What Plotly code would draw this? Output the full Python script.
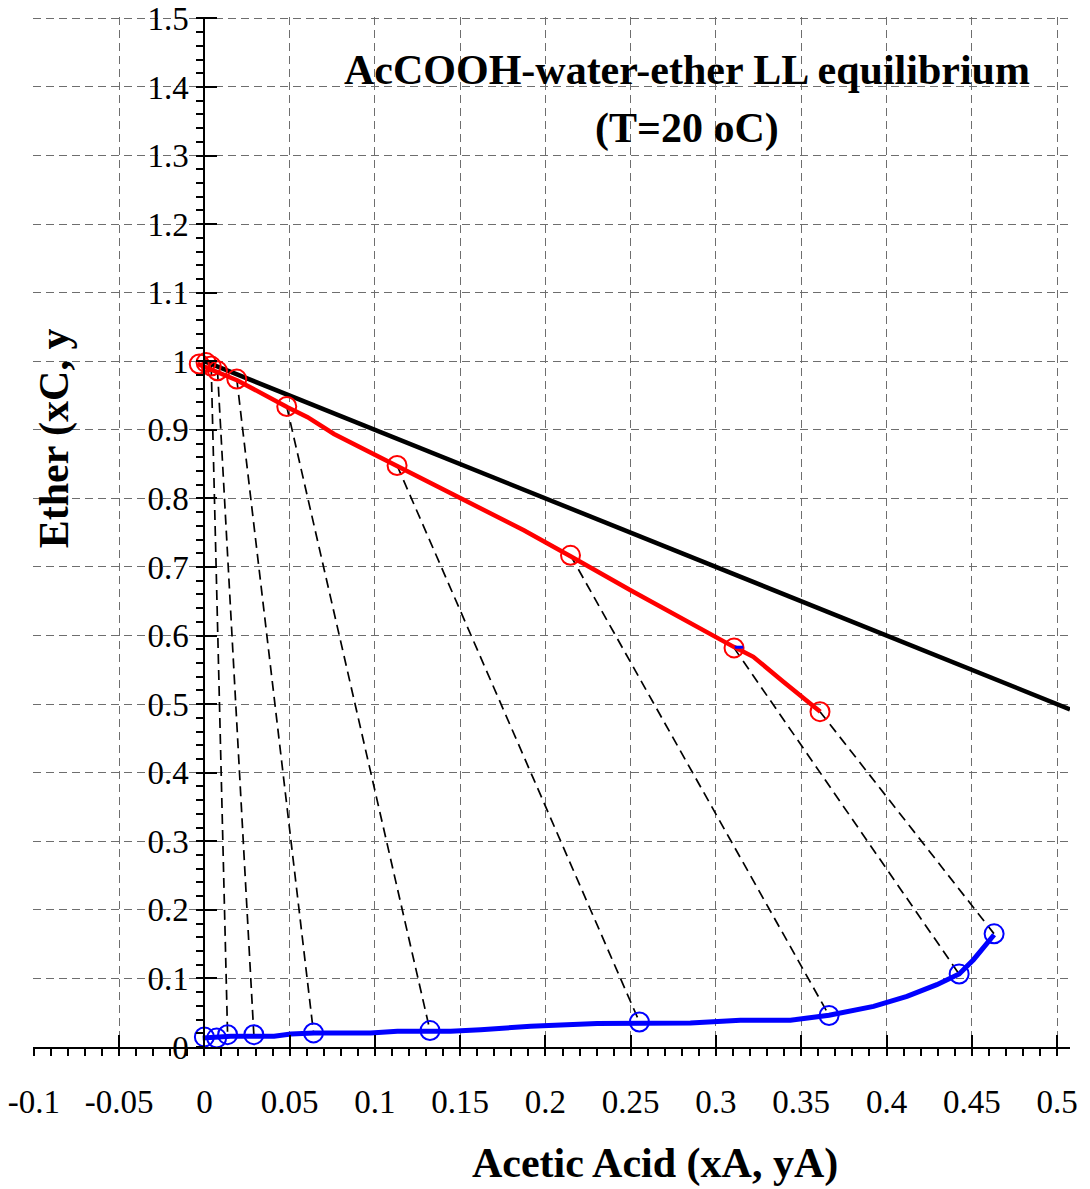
import plotly.graph_objects as go

# ---------------- data ----------------
# extract-phase (ether rich) experimental points
red_x = [-0.003, 0.001, 0.004, 0.0077, 0.019, 0.0483, 0.1130, 0.2147, 0.3106, 0.3610]
red_y = [0.996, 0.998, 0.993, 0.986, 0.974, 0.934, 0.848, 0.717, 0.582, 0.489]
# raffinate-phase (water rich) experimental points
blue_x = [0.000, 0.0072, 0.0136, 0.0290, 0.0640, 0.1323, 0.2551, 0.3663, 0.4426, 0.4631]
blue_y = [0.0147, 0.013, 0.018, 0.018, 0.0205, 0.0239, 0.0365, 0.046, 0.1064, 0.165]
# indices of the points joined by tie lines
tie_idx = [2, 3, 4, 5, 6, 7, 8, 9]

# extract-phase curve
red_curve_x = [-0.004, 0.0077, 0.0194, 0.0487, 0.0605, 0.076, 0.1132, 0.1249, 0.162,
               0.1873, 0.2147, 0.2499, 0.3104, 0.3219, 0.3395, 0.3612]
red_curve_y = [0.9962, 0.984, 0.972, 0.933, 0.9185, 0.894, 0.8467, 0.8336, 0.785,
               0.7535, 0.7156, 0.6661, 0.5835, 0.569, 0.5326, 0.4889]
# raffinate-phase curve
blue_curve_x = [-0.001, 0.0155, 0.0409, 0.0507, 0.0643, 0.0975, 0.1132, 0.1444, 0.162,
                0.1913, 0.2303, 0.2551, 0.285, 0.3143, 0.3436, 0.3663, 0.3924, 0.412,
                0.4295, 0.4426, 0.451, 0.4631]
blue_curve_y = [0.0133, 0.0156, 0.0156, 0.019, 0.0205, 0.0205, 0.0229, 0.0229, 0.0253,
                0.0301, 0.0341, 0.0351, 0.0351, 0.0389, 0.0389, 0.0462, 0.0593, 0.0738,
                0.0909, 0.1065, 0.1273, 0.1637]
# hypotenuse line (xA + xC = 1)
black_x = [0.0, 0.5076]
black_y = [1.0, 0.4924]
# small blue mark near the plait region
mark_x = [0.3110, 0.3160]
mark_y = [0.5830, 0.5830]

x_ticks = [-0.1, -0.05, 0, 0.05, 0.1, 0.15, 0.2, 0.25, 0.3, 0.35, 0.4, 0.45, 0.5]
x_ticklabels = ["-0.1", "-0.05", "0", "0.05", "0.1", "0.15", "0.2", "0.25", "0.3",
                "0.35", "0.4", "0.45", "0.5"]
y_ticks = [0, 0.1, 0.2, 0.3, 0.4, 0.5, 0.6, 0.7, 0.8, 0.9, 1.0, 1.1, 1.2, 1.3, 1.4, 1.5]
y_ticklabels = ["0", "0.1", "0.2", "0.3", "0.4", "0.5", "0.6", "0.7", "0.8", "0.9",
                "1", "1.1", "1.2", "1.3", "1.4", "1.5"]
x_minor = [round(-0.1 + 0.01 * i, 2) for i in range(61)]
y_minor = [round(0.02 * i, 2) for i in range(76)]

x_range = [-0.1005, 0.5076]
y_range = [0, 1.502]
yaxis_pos = (0 - x_range[0]) / (x_range[1] - x_range[0])

title_line1 = "AcCOOH-water-ether LL equilibrium"
title_line2 = "(T=20 oC)"
x_title = "Acetic Acid (xA, yA)"
y_title = "Ether (xC, y"

SERIF = "Liberation Serif, Times New Roman, serif"

fig = go.Figure()

# tie lines
for i in tie_idx:
    fig.add_trace(go.Scatter(
        x=[red_x[i], blue_x[i]], y=[red_y[i], blue_y[i]], mode="lines",
        line=dict(color="black", width=1.7, dash="10px,6px"),
        showlegend=False, hoverinfo="skip"))

fig.add_trace(go.Scatter(x=black_x, y=black_y, mode="lines",
                         line=dict(color="black", width=4.5), showlegend=False))
fig.add_trace(go.Scatter(x=red_curve_x, y=red_curve_y, mode="lines",
                         line=dict(color="#ff0000", width=4.5), showlegend=False))
fig.add_trace(go.Scatter(x=blue_curve_x, y=blue_curve_y, mode="lines",
                         line=dict(color="#0000ff", width=5), showlegend=False))
fig.add_trace(go.Scatter(x=red_x, y=red_y, mode="markers",
                         marker=dict(symbol="circle-open", size=19, color="#ff0000",
                                     line=dict(width=2, color="#ff0000")),
                         showlegend=False, cliponaxis=False))
fig.add_trace(go.Scatter(x=blue_x, y=blue_y, mode="markers",
                         marker=dict(symbol="circle-open", size=19, color="#0000ff",
                                     line=dict(width=2, color="#0000ff")),
                         showlegend=False, cliponaxis=False))
fig.add_trace(go.Scatter(x=mark_x, y=mark_y, mode="lines",
                         line=dict(color="#0000ff", width=3), showlegend=False))
# carrier for overlay axes (inner halves of the major ticks)
fig.add_trace(go.Scatter(x=[None], y=[None], xaxis="x2", yaxis="y2",
                         showlegend=False, hoverinfo="skip"))

grid_common = dict(showgrid=True, gridcolor="#6e6e6e", gridwidth=1, griddash="8px,5px",
                   zeroline=False, automargin=False, ticklabeloverflow="allow")

fig.update_layout(
    width=1090, height=1189,
    margin=dict(l=33, r=20, t=17, b=142, autoexpand=False),
    paper_bgcolor="white", plot_bgcolor="white",
    font=dict(family=SERIF, color="black", size=33),
    xaxis=dict(range=x_range, tickmode="array", tickvals=x_ticks, ticktext=x_ticklabels,
               ticks="outside", ticklen=7, tickwidth=2, tickcolor="black",
               ticklabelstandoff=17,
               showline=True, linecolor="black", linewidth=2, anchor="y",
               tickfont=dict(family=SERIF, size=33, color="black"),
               minor=dict(tickmode="array", tickvals=x_minor, ticks="outside",
                          ticklen=7, tickwidth=1.5, tickcolor="black", showgrid=False),
               **grid_common),
    yaxis=dict(range=y_range, tickmode="array", tickvals=y_ticks, ticktext=y_ticklabels,
               ticks="outside", ticklen=7, tickwidth=2, tickcolor="black",
               ticklabelstandoff=1,
               showline=True, linecolor="black", linewidth=2,
               anchor="free", position=yaxis_pos, side="left",
               tickfont=dict(family=SERIF, size=33, color="black"),
               minor=dict(tickmode="array", tickvals=y_minor, ticks="outside",
                          ticklen=7, tickwidth=1.5, tickcolor="black", showgrid=False),
               **grid_common),
    xaxis2=dict(range=x_range, overlaying="x", anchor="y2", tickmode="array",
                tickvals=x_ticks, ticks="inside", ticklen=12, tickwidth=2,
                tickcolor="black", showticklabels=False, showgrid=False,
                showline=False, zeroline=False, automargin=False),
    yaxis2=dict(range=y_range, overlaying="y", anchor="free", position=yaxis_pos,
                side="left", tickmode="array", tickvals=y_ticks, ticks="inside",
                ticklen=12, tickwidth=2, tickcolor="black", showticklabels=False,
                showgrid=False, showline=False, zeroline=False, automargin=False),
)

bold_font = dict(family=SERIF, size=42, color="black", weight="bold")
fig.add_annotation(text="<b>" + title_line1 + "</b>", xref="paper", yref="paper",
                   x=0.6307, y=0.9483, xanchor="center", yanchor="middle",
                   showarrow=False, font=bold_font)
fig.add_annotation(text="<b>" + title_line2 + "</b>", xref="paper", yref="paper",
                   x=0.6307, y=0.892, xanchor="center", yanchor="middle",
                   showarrow=False, font=bold_font)
fig.add_annotation(text="<b>" + x_title + "</b>", xref="paper", yref="paper",
                   x=0.5998, y=-0.113, xanchor="center", yanchor="middle",
                   showarrow=False, font=bold_font)
fig.add_annotation(text="<b>" + y_title + "</b>", xref="paper", yref="paper",
                   x=0.0203, y=0.591, xanchor="center", yanchor="middle",
                   textangle=-90, showarrow=False, font=bold_font)

fig.write_html("out.html", config={"displayModeBar": False},
               post_script="document.body.style.margin='0px';")
